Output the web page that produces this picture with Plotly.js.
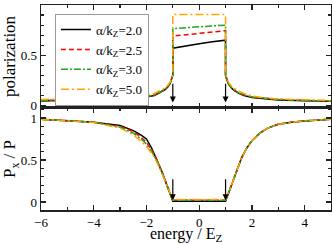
<!DOCTYPE html>
<html><head><meta charset="utf-8">
<script src="https://cdn.plot.ly/plotly-3.0.1.min.js"></script>
<style>html,body{margin:0;padding:0;background:#fff}#c{width:332px;height:245px}</style>
</head><body><div id="c"></div>
<script>
// ----- data -----
const seriesNames = ['α/k<sub>Z</sub>=2.0','α/k<sub>Z</sub>=2.5','α/k<sub>Z</sub>=3.0','α/k<sub>Z</sub>=5.0'];
// top panel: polarization vs energy
const energyTop = [-6,-5,-4,-3,-2.5,-2,-1.7,-1.5,-1.3,-1.2,-1.1,-1.05,-1,-1,-0.5,0,0.5,1,1,1.05,1.1,1.2,1.3,1.5,1.7,2,2.5,3,4,5];
const polBlack  = [0.045,0.05,0.055,0.065,0.075,0.085,0.10,0.125,0.155,0.18,0.22,0.26,0.30,0.57,0.595,0.615,0.635,0.65,0.30,0.26,0.22,0.18,0.155,0.12,0.10,0.08,0.065,0.055,0.048,0.043];
const polRed    = [0.05,0.055,0.06,0.07,0.08,0.09,0.105,0.13,0.16,0.185,0.225,0.265,0.30,0.69,0.705,0.72,0.732,0.745,0.30,0.265,0.225,0.185,0.16,0.125,0.105,0.085,0.07,0.06,0.05,0.045];
const polGreen  = [0.05,0.055,0.06,0.07,0.08,0.09,0.105,0.13,0.16,0.185,0.225,0.265,0.30,0.765,0.775,0.785,0.793,0.80,0.30,0.265,0.225,0.185,0.16,0.125,0.105,0.085,0.07,0.06,0.05,0.045];
const polOrange = [0.06,0.065,0.07,0.08,0.09,0.10,0.12,0.145,0.175,0.20,0.235,0.27,0.31,0.905,0.905,0.905,0.905,0.905,0.31,0.27,0.235,0.20,0.175,0.145,0.12,0.095,0.075,0.065,0.055,0.05];
// bottom panel: Px/P vs energy
const energyBot = [-6,-5,-4,-3,-2.5,-2.2,-2,-1.8,-1.6,-1.4,-1.2,-1.05,-1,-0.5,0,0.5,1,1.2,1.4,1.6,1.8,2,2.3,2.6,3,3.5,4,4.5,5];
const pxBlack  = [0.985,0.97,0.95,0.91,0.85,0.795,0.75,0.64,0.50,0.35,0.18,0.04,0.01,0.01,0.01,0.01,0.01,0.18,0.36,0.52,0.64,0.73,0.82,0.88,0.925,0.95,0.965,0.975,0.985];
const pxRed    = [0.985,0.97,0.95,0.90,0.84,0.77,0.71,0.62,0.50,0.35,0.18,0.05,0.02,0.02,0.02,0.02,0.02,0.18,0.36,0.52,0.64,0.73,0.82,0.88,0.925,0.95,0.965,0.975,0.985];
const pxGreen  = [0.985,0.97,0.95,0.89,0.82,0.75,0.69,0.60,0.49,0.34,0.17,0.05,0.02,0.02,0.02,0.02,0.02,0.18,0.36,0.52,0.64,0.73,0.82,0.88,0.925,0.95,0.965,0.975,0.985];
const pxOrange = [0.985,0.965,0.945,0.88,0.80,0.72,0.66,0.58,0.47,0.33,0.17,0.06,0.03,0.03,0.03,0.03,0.03,0.18,0.36,0.52,0.64,0.73,0.82,0.88,0.925,0.95,0.965,0.975,0.985];
// arrows marking band edges
const arrowX = [-1, 1];

const colors = ['#000000','#ff0000','#1fa51f','#ffa500'];
const dashes = ['solid','5px,3px','7px,2px,2px,2px','8px,3px,2px,3px'];
const topY = [polBlack, polRed, polGreen, polOrange];
const botY = [pxBlack, pxRed, pxGreen, pxOrange];

const traces = [];
for (let i = 0; i < 4; i++) {
  traces.push({x: energyTop, y: topY[i], xaxis:'x2', yaxis:'y2', type:'scatter', mode:'lines',
    name: seriesNames[i], line:{color:colors[i], width:1.5, dash:dashes[i]}, showlegend:true});
}
for (let i = 0; i < 4; i++) {
  traces.push({x: energyBot, y: botY[i], xaxis:'x', yaxis:'y', type:'scatter', mode:'lines',
    name: seriesNames[i], line:{color:colors[i], width:1.5, dash:dashes[i]}, showlegend:false});
}

const font = {family:'Liberation Serif, Times New Roman, serif', color:'#000'};
const axCommon = {showline:true, linecolor:'#222', linewidth:1.5, mirror:'ticks', ticks:'inside',
  ticklen:5, tickwidth:1.2, tickcolor:'#222', showgrid:false, zeroline:false,
  tickfont:{family:font.family, size:13, color:'#000'}};

const annotations = [];
arrowX.forEach(xv => {
  annotations.push({x:xv, y:0.03, xref:'x2', yref:'y2', ax:xv, ay:0.23, axref:'x2', ayref:'y2',
    showarrow:true, arrowhead:2, arrowsize:1, arrowwidth:1.2, arrowcolor:'#000', text:''});
  annotations.push({x:xv, y:0.02, xref:'x', yref:'y', ax:xv, ay:0.29, axref:'x', ayref:'y',
    showarrow:true, arrowhead:2, arrowsize:1, arrowwidth:1.2, arrowcolor:'#000', text:''});
});
annotations.push({text:'energy / E<sub>Z</sub>', xref:'paper', yref:'paper', x:0.5, y:-0.119,
  xanchor:'center', yanchor:'middle', showarrow:false, borderpad:0,
  font:{family:font.family, size:16, color:'#000'}});

const layout = {
  width:332, height:245, margin:{l:41, r:1, t:5, b:35},
  paper_bgcolor:'#fff', plot_bgcolor:'#fff', font: font,
  showlegend:true,
  legend:{x:0.048, y:0.958, xanchor:'left', yanchor:'top', bgcolor:'#fff',
    bordercolor:'#999', borderwidth:1, font:{family:font.family, size:13, color:'#000'},
    tracegroupgap:0},
  xaxis: Object.assign({}, axCommon, {range:[-6,5], dtick:2, tick0:-6, anchor:'y',
    minor:{dtick:1, ticks:'inside', ticklen:3, tickcolor:'#222'}}),
  xaxis2: Object.assign({}, axCommon, {range:[-6,5], dtick:2, tick0:-6, anchor:'y2', matches:'x',
    showticklabels:false, minor:{dtick:1, ticks:'inside', ticklen:3, tickcolor:'#222'}}),
  yaxis: Object.assign({}, axCommon, {domain:[0,0.4976], range:[-0.095,1.119], tickvals:[0,0.5,1], ticktext:['0','0.5','1'],
    anchor:'x',
    minor:{dtick:0.1, ticks:'inside', ticklen:3, tickcolor:'#222'},
    title:{text:'P<sub>x</sub> / P', font:{family:font.family, size:17}, standoff:2}}),
  yaxis2: Object.assign({}, axCommon, {domain:[0.4976,1], range:[-0.025,1], tickvals:[0,0.5,1], ticktext:['0','0.5','1'],
    anchor:'x2',
    minor:{dtick:0.1, ticks:'inside', ticklen:3, tickcolor:'#222'},
    title:{text:'polarization', font:{family:font.family, size:17}, standoff:2}}),
  annotations: annotations
};
Plotly.newPlot('c', traces, layout, {staticPlot:true, displayModeBar:false});
</script></body></html>
